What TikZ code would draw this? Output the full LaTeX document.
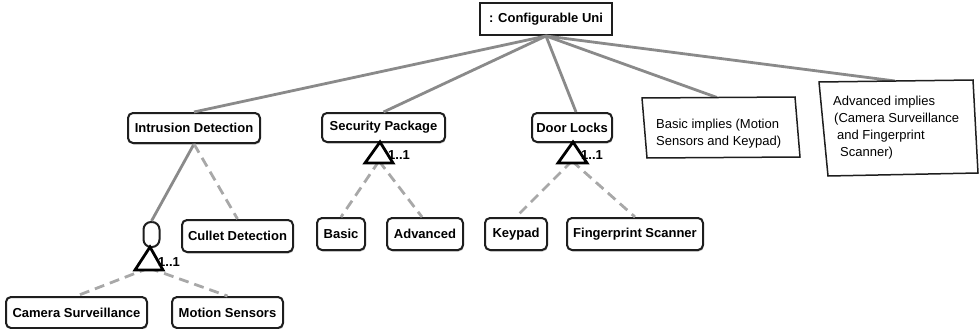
\documentclass[tikz,border=0pt]{standalone}
\usepackage{fontspec}
\setmainfont{Liberation Sans}
\usetikzlibrary{shadows}
\definecolor{linegray}{HTML}{8A8A8A}
\definecolor{dashgray}{HTML}{A8A8A8}
\definecolor{boxline}{HTML}{1E1E1E}
\begin{document}
\begin{tikzpicture}[x=1pt,y=-1pt,
  feat/.style={draw=boxline, line width=2pt, rounded corners=5pt, fill=white,
    font=\fontsize{13}{15}\selectfont\bfseries, inner sep=0pt,
    drop shadow={shadow xshift=0.8pt, shadow yshift=-1.5pt, fill=black!22, opacity=1}},
  rootbox/.style={draw=boxline, line width=2pt, fill=white,
    font=\fontsize{13}{15}\selectfont\bfseries, inner sep=0pt},
  solidcon/.style={draw=linegray, line width=2.8pt},
  dashcon/.style={draw=dashgray, line width=2.8pt, dash pattern=on 10pt off 6pt},
  tri/.style={draw=black, line width=2.8pt, fill=white, line join=miter},
  mult/.style={font=\fontsize{13}{15}\selectfont\bfseries, inner sep=0pt, anchor=west},
  notebox/.style={draw=boxline, line width=1.5pt, fill=white},
  notetext/.style={font=\fontsize{13}{17}\selectfont, align=left, inner sep=0pt, anchor=north west},
]
\useasboundingbox (0,0) rectangle (979,329);

% feature nodes
\node[rootbox, minimum width=132pt, minimum height=32pt] (root) at (546,19) {: Configurable Uni};
\node[feat, minimum width=132pt, minimum height=30pt] (intr) at (194,128) {Intrusion Detection};
\node[feat, minimum width=123pt, minimum height=29pt] (sec) at (383.5,127.5) {Security Package};
\node[feat, minimum width=80pt, minimum height=29pt] (door) at (572,127.5) {Door Locks};
\node[feat, minimum width=111pt, minimum height=32pt] (cullet) at (237.5,236) {Cullet Detection};
\node[draw=boxline, line width=2pt, fill=white, rounded corners=7.5pt,
      minimum width=16pt, minimum height=25pt, inner sep=0pt] (oval) at (151.5,234.5) {};
\node[feat, minimum width=141pt, minimum height=31pt] (cam) at (76.5,312.5) {Camera Surveillance};
\node[feat, minimum width=111pt, minimum height=31pt] (motion) at (227.5,312.5) {Motion Sensors};
\node[feat, minimum width=48pt, minimum height=32pt] (basic) at (341,234) {Basic};
\node[feat, minimum width=76pt, minimum height=32pt] (adv) at (425,234) {Advanced};
\node[feat, minimum width=62pt, minimum height=32pt] (keypad) at (516,234) {Keypad};
\node[feat, minimum width=136pt, minimum height=32pt] (finger) at (635,234) {Fingerprint Scanner};

% notes
\coordinate (n1a) at (642,98);
\coordinate (n1b) at (795,97);
\coordinate (n1c) at (800,157);
\coordinate (n1d) at (647,158);
\coordinate (n1top) at (717,97.5);
\coordinate (n2a) at (819,82);
\coordinate (n2b) at (973,80);
\coordinate (n2c) at (978,173);
\coordinate (n2d) at (828,176);
\coordinate (n2top) at (895,81);

% connectors from root
\draw[solidcon] (root.south) -- (intr.north);
\draw[solidcon] (root.south) -- (sec.north);
\draw[solidcon] (root.south) -- ([xshift=4pt]door.north);
\draw[solidcon] (root.south) -- (n1top);
\draw[solidcon] (root.south) -- (n2top);

\draw[notebox] (n1a) -- (n1b) -- (n1c) -- (n1d) -- cycle;
\draw[notebox] (n2a) -- (n2b) -- (n2c) -- (n2d) -- cycle;
\node[notetext] (note1) at (656,119) {Basic implies (Motion\\Sensors and Keypad)};
\node[notetext] (note2) at (833,96) {Advanced implies\\\hspace*{1pt}(Camera Surveillance\\\hspace*{4pt}and Fingerprint\\\hspace*{7pt}Scanner)};

% intrusion detection subtree
\draw[solidcon] (intr.south) -- (oval.north);
\draw[dashcon] (intr.south) -- (cullet.north);
\coordinate (t1apex) at (150,247);
\coordinate (t1l) at (135,270);
\coordinate (t1r) at (163,270);
\coordinate (t1base) at (149,268);
\draw[dashcon] (t1base) -- (cam.north);
\draw[dashcon] (t1base) -- (motion.north);
\draw[tri] (t1apex) -- (t1l) -- (t1r) -- cycle;
\node[mult] (m1) at (158,262) {1..1};

% security package subtree
\coordinate (t2apex) at (380,142);
\coordinate (t2l) at (365,163);
\coordinate (t2r) at (393,163);
\coordinate (t2base) at (379,161);
\draw[dashcon] (t2base) -- (basic.north);
\draw[dashcon] (t2base) -- ([xshift=-3pt]adv.north);
\draw[tri] (t2apex) -- (t2l) -- (t2r) -- cycle;
\node[mult] (m2) at (388,155) {1..1};

% door locks subtree
\coordinate (t3apex) at (573,142);
\coordinate (t3l) at (558,163);
\coordinate (t3r) at (587,163);
\coordinate (t3base) at (572,161);
\draw[dashcon] (t3base) -- (keypad.north);
\draw[dashcon] (t3base) -- (finger.north);
\draw[tri] (t3apex) -- (t3l) -- (t3r) -- cycle;
\node[mult] (m3) at (581,155) {1..1};
\end{tikzpicture}
\end{document}
